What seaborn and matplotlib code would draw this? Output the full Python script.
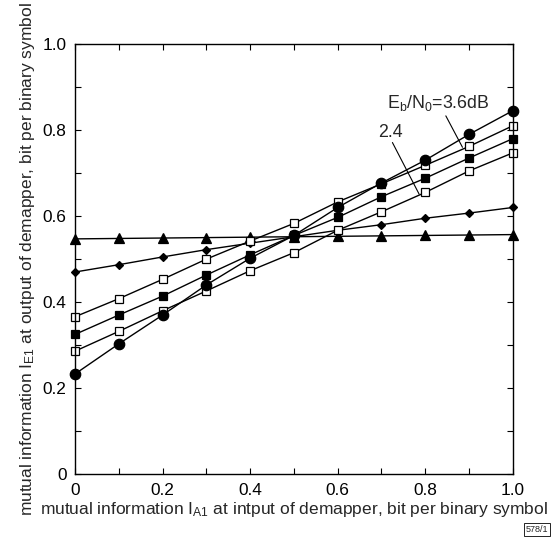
import matplotlib
matplotlib.use("Agg")
import matplotlib.pyplot as plt
from matplotlib.ticker import MultipleLocator
import numpy as np
import pandas as pd
import seaborn as sns

# a priori mutual information at the demapper input
i_a = [0.0, 0.1, 0.2, 0.3, 0.4, 0.5, 0.6, 0.7, 0.8, 0.9, 1.0]

# extrinsic mutual information at the demapper output, one curve per mapping
ie_circle = [0.233, 0.303, 0.370, 0.440, 0.502, 0.555, 0.620, 0.677, 0.730, 0.790, 0.845]
ie_open_upper = [0.366, 0.408, 0.453, 0.500, 0.542, 0.583, 0.633, 0.675, 0.718, 0.762, 0.810]
ie_filled_sq = [0.325, 0.370, 0.414, 0.463, 0.510, 0.555, 0.597, 0.645, 0.688, 0.735, 0.780]
ie_open_lower = [0.286, 0.332, 0.380, 0.426, 0.473, 0.515, 0.567, 0.610, 0.655, 0.705, 0.747]
ie_diamond = [0.470, 0.487, 0.505, 0.522, 0.537, 0.552, 0.567, 0.580, 0.595, 0.607, 0.620]
ie_triangle = [0.547, 0.548, 0.549, 0.550, 0.551, 0.552, 0.553, 0.554, 0.555, 0.556, 0.557]

tick_vals = [0.0, 0.2, 0.4, 0.6, 0.8, 1.0]
tick_text = ["0", "0.2", "0.4", "0.6", "0.8", "1.0"]

sns.set_style("ticks")
plt.rcParams["font.family"] = ["Liberation Sans", "DejaVu Sans"]
plt.rcParams["mathtext.fontset"] = "custom"
plt.rcParams["mathtext.rm"] = "Liberation Sans"
plt.rcParams["mathtext.it"] = "Liberation Sans"
plt.rcParams["mathtext.bf"] = "Liberation Sans:bold"
plt.rcParams["mathtext.default"] = "regular"

fig = plt.figure(figsize=(5.52, 5.37), dpi=100)
ax = fig.add_axes([0.136, 0.117, 0.793, 0.801])

curves = [
    (ie_triangle, "^", "black", 7),
    (ie_diamond, "D", "black", 4.5),
    (ie_open_lower, "s", "white", 6),
    (ie_filled_sq, "s", "black", 6),
    (ie_open_upper, "s", "white", 6),
    (ie_circle, "o", "black", 7.5),
]

for vals, mk, face, ms in curves:
    df = pd.DataFrame({"ia": i_a, "ie": vals})
    sns.lineplot(data=df, x="ia", y="ie", ax=ax, color="black", linewidth=1.0,
                 marker=mk, markersize=ms, markerfacecolor=face,
                 markeredgecolor="black", markeredgewidth=0.9, clip_on=False)

ax.set_xlim(0, 1)
ax.set_ylim(0, 1)
ax.set_xticks(tick_vals)
ax.set_xticklabels(tick_text)
ax.set_yticks(tick_vals)
ax.set_yticklabels(tick_text)
ax.xaxis.set_minor_locator(MultipleLocator(0.1))
ax.yaxis.set_minor_locator(MultipleLocator(0.1))
ax.tick_params(which="both", direction="in", top=True, right=True,
               labelsize=12.4, width=0.8, colors="black")
ax.tick_params(which="major", length=4, pad=6)
ax.tick_params(which="minor", length=4)
for sp in ax.spines.values():
    sp.set_visible(True)
    sp.set_linewidth(1.0)
    sp.set_color("black")

ax.set_xlabel("mutual information I$_{A1}$ at intput of demapper, bit per binary symbol",
              fontsize=12.5, labelpad=2)
ax.set_ylabel("mutual information I$_{E1}$ at output of demapper, bit per binary symbol",
              fontsize=12.5, labelpad=4)

# curve labels with pointer lines
ax.text(0.712, 0.862, "E$_b$/N$_0$=3.6dB", fontsize=12.8, ha="left", va="center")
ax.plot([0.847, 0.885], [0.833, 0.760], color="black", linewidth=0.8)
ax.text(0.692, 0.795, "2.4", fontsize=12.8, ha="left", va="center")
ax.plot([0.725, 0.786], [0.771, 0.651], color="black", linewidth=0.8)

fig.text(0.993, 0.006, "578/1", fontsize=6.5, ha="right", va="bottom",
         bbox=dict(boxstyle="square,pad=0.2", facecolor="white",
                   edgecolor="black", linewidth=0.6))

fig.savefig("out.png", dpi=100, facecolor="white")
